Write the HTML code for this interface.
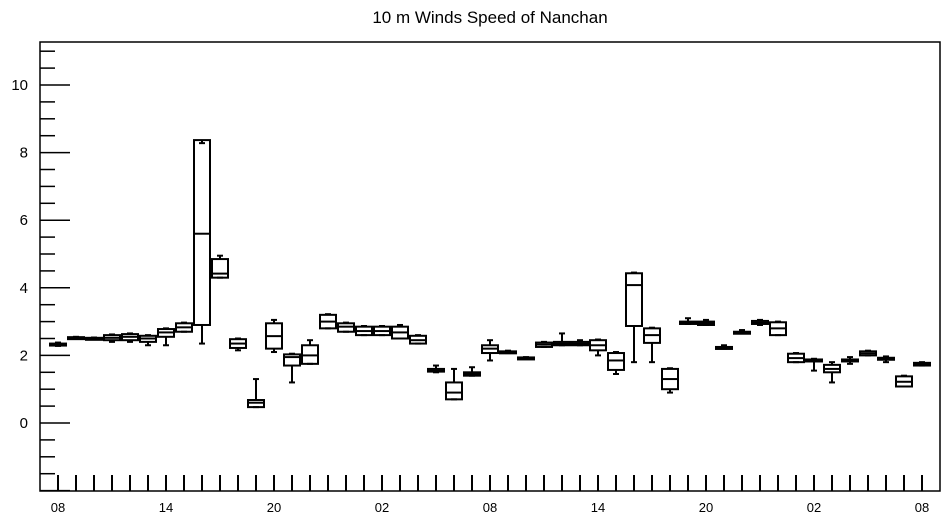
<!DOCTYPE html>
<html><head><meta charset="utf-8"><style>body{margin:0;background:#fff}svg{display:block}text{font-family:"Liberation Sans",sans-serif}</style></head>
<body>
<svg id="c" width="945" height="520" xmlns="http://www.w3.org/2000/svg">
<text x="490" y="23" font-size="17" text-anchor="middle">10 m Winds Speed of Nanchan</text>
<rect x="40" y="42" width="900" height="449" fill="none" stroke="#000" stroke-width="1.5"/>
<g id="ax"></g><g id="marks"></g>
</svg>
<script>
const xLabels=["08","14","20","02","08","14","20","02","08"];
const yTicks=[0,2,4,6,8,10];
const mins=[2.28,2.5,2.47,2.4,2.4,2.3,2.3,2.7,2.35,4.3,2.15,0.47,2.1,1.2,1.75,2.8,2.7,2.6,2.6,2.5,2.35,1.5,0.7,1.4,1.85,2.07,1.9,2.25,2.3,2.3,2.0,1.45,1.8,1.8,0.9,2.93,2.9,2.2,2.65,2.9,2.6,1.8,1.55,1.2,1.75,2.0,1.8,1.08,1.7];
const q1s=[2.3,2.5,2.48,2.45,2.45,2.4,2.55,2.7,2.9,4.3,2.22,0.47,2.2,1.7,1.75,2.8,2.7,2.6,2.6,2.5,2.35,1.52,0.7,1.4,2.07,2.07,1.9,2.25,2.3,2.3,2.15,1.57,2.87,2.37,1.0,2.93,2.9,2.2,2.65,2.93,2.6,1.8,1.82,1.5,1.83,2.0,1.88,1.08,1.7];
const meds=[2.32,2.52,2.5,2.52,2.55,2.5,2.68,2.83,5.6,4.42,2.35,0.6,2.57,1.95,2.0,3.0,2.85,2.72,2.72,2.68,2.45,1.55,0.9,1.45,2.2,2.1,1.92,2.32,2.35,2.35,2.3,1.85,4.08,2.6,1.3,2.97,2.95,2.22,2.67,2.97,2.8,1.92,1.85,1.6,1.85,2.06,1.9,1.22,1.74];
const q3s=[2.35,2.54,2.52,2.6,2.63,2.58,2.78,2.95,8.37,4.85,2.48,0.68,2.95,2.03,2.3,3.2,2.95,2.85,2.85,2.85,2.58,1.6,1.2,1.5,2.3,2.12,1.94,2.38,2.4,2.4,2.45,2.07,4.43,2.8,1.6,3.0,3.0,2.25,2.7,3.02,2.98,2.05,1.88,1.72,1.88,2.12,1.93,1.38,1.78];
const maxs=[2.38,2.55,2.53,2.62,2.65,2.6,2.8,2.97,8.28,4.95,2.5,1.3,3.05,2.05,2.45,3.22,2.97,2.87,2.87,2.9,2.6,1.7,1.6,1.65,2.45,2.14,1.95,2.4,2.65,2.45,2.47,2.1,4.45,2.82,1.62,3.1,3.05,2.3,2.75,3.05,3.0,2.07,1.9,1.8,1.95,2.14,1.97,1.4,1.8];
const NS="http://www.w3.org/2000/svg";
const yS=v=>423-v*33.8, xS=i=>57+18*i;
function mk(t,a,p){const e=document.createElementNS(NS,t);for(const k in a)e.setAttribute(k,a[k]);p.appendChild(e);return e;}
const ax=document.getElementById('ax'), mg=document.getElementById('marks');
for(let v=-2;v<=11.2;v+=0.5){const maj=Math.abs(v/2-Math.round(v/2))<1e-6;
 const l=mk('line',{x1:40,x2:maj?70:55,y1:yS(v),y2:yS(v),stroke:'#000','stroke-width':1.5},ax);
 
 }
yTicks.forEach(v=>{const t=mk('text',{x:28,y:yS(v)+5,'font-size':15,'text-anchor':'end'},ax);t.textContent=v;
 
 });
for(let i=0;i<mins.length;i++){const l=mk('line',{x1:xS(i)+1,x2:xS(i)+1,y1:491,y2:475,stroke:'#000','stroke-width':2},ax);
 
 }
xLabels.forEach((s,k)=>{const t=mk('text',{x:xS(k*6)+1,y:512,'font-size':13,'text-anchor':'middle'},ax);t.textContent=s;
 
 });
for(let i=0;i<mins.length;i++){const g=mk('g',{stroke:'#000','stroke-width':2,fill:'none'},mg);
 
 
 const x=xS(i)+1;
 mk('line',{x1:x,x2:x,y1:yS(maxs[i]),y2:yS(q3s[i])},g);
 mk('line',{x1:x,x2:x,y1:yS(mins[i]),y2:yS(q1s[i])},g);
 mk('line',{x1:x-3,x2:x+3,y1:yS(maxs[i]),y2:yS(maxs[i])},g);
 mk('line',{x1:x-3,x2:x+3,y1:yS(mins[i]),y2:yS(mins[i])},g);
 const h=Math.max(yS(q1s[i])-yS(q3s[i]),2);
 mk('rect',{x:x-8,y:yS(q3s[i]),width:16,height:h},g);
 mk('line',{x1:x-8,x2:x+8,y1:yS(meds[i]),y2:yS(meds[i])},g);}
</script>
</body></html>
